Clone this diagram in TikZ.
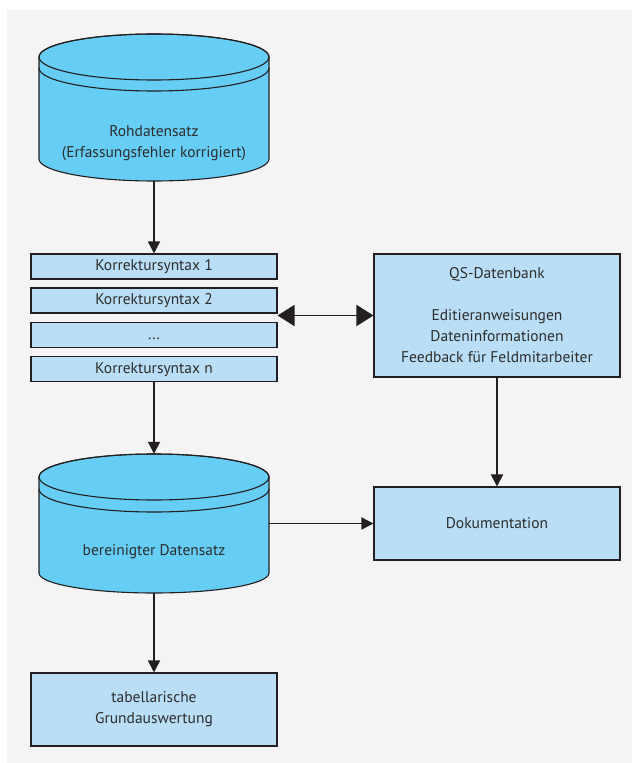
\documentclass[tikz,border=0pt]{standalone}
\usepackage{fontspec}
\setmainfont{PT Sans}
\usetikzlibrary{arrows.meta}
\definecolor{bgGray}{HTML}{F4F4F4}
\definecolor{cylFill}{HTML}{66CDF5}
\definecolor{boxFill}{HTML}{B9DEF5}
\definecolor{lineCol}{HTML}{231F20}
\definecolor{textCol}{HTML}{2D2D2D}
\begin{document}
\begin{tikzpicture}[x=1bp,y=-1bp,
  txt/.style={text=textCol, font=\fontsize{15.5bp}{21bp}\selectfont, align=center, inner sep=0pt},
  box/.style={txt, draw=lineCol, line width=1.1bp, fill=boxFill, minimum width=246bp},
  slim/.style={box, minimum height=25bp},
  holder/.style={inner sep=0pt, minimum width=230bp},
  cyl/.style={draw=lineCol, line width=1.1bp, fill=cylFill},
  flow/.style={draw=lineCol, line width=1.7bp, -{Triangle[length=12bp,width=12bp]}},
  both/.style={draw=lineCol, line width=1.9bp, {Triangle[length=17bp,width=21bp]}-{Triangle[length=17bp,width=21bp]}}
]
% page and background
\useasboundingbox (0,0) rectangle (632,763);
\fill[bgGray] (7,10) rectangle (632,763);

% raw data store
\path[cyl] (39,57) -- (39,159) arc[start angle=180,end angle=0,x radius=115,y radius=22]
  -- (269,57) arc[start angle=0,end angle=-180,x radius=115,y radius=23] -- cycle;
\draw[cyl, fill=none] (154,57) ellipse [x radius=115, y radius=23];
\draw[cyl, fill=none] (39,68) arc[start angle=180,end angle=0,x radius=115,y radius=23];
\node[holder, minimum height=148bp] (raw) at (154,107) {};
\node[txt] (rawtext) at (154,143.5) {Rohdatensatz\\(Erfassungsfehler korrigiert)};

% correction syntax stack
\node[slim] (k1) at (154,266.5) {\strut Korrektursyntax 1};
\node[slim] (k2) at (154,300.5) {\strut Korrektursyntax 2};
\node[slim] (k3) at (154,335) {\strut ...};
\node[slim] (k4) at (154,369) {\strut Korrektursyntax n};

% QS database and documentation
\node[box, minimum height=123bp] (qs) at (497,315.5)
  {QS-Datenbank\\[21bp]Editieranweisungen\\Dateninformationen\\Feedback für Feldmitarbeiter};
\node[box, minimum height=73bp] (doc) at (497,523.5) {Dokumentation};

% cleaned data store
\path[cyl] (39,477) -- (39,573) arc[start angle=180,end angle=0,x radius=115,y radius=20]
  -- (269,477) arc[start angle=0,end angle=-180,x radius=115,y radius=23] -- cycle;
\draw[cyl, fill=none] (154,477) ellipse [x radius=115, y radius=23];
\draw[cyl, fill=none] (39,489) arc[start angle=180,end angle=0,x radius=115,y radius=23];
\node[holder, minimum height=139bp] (clean) at (154,523.5) {};
\node[txt] (cleantext) at (154,552) {bereinigter Datensatz};

% tabulation
\node[box, minimum height=73bp] (tab) at (154,709.5) {tabellarische\\Grundauswertung};

% connectors
\draw[flow] (raw.south) -- (k1.north);
\draw[flow] (k4.south) -- (clean.north);
\draw[flow] (clean.south) -- (tab.north);
\draw[flow] (qs.south) -- (doc.north);
\draw[flow] (doc.west -| clean.east) -- (doc.west);
\draw[both] (qs.west -| k2.east) -- (qs.west);
\end{tikzpicture}
\end{document}
